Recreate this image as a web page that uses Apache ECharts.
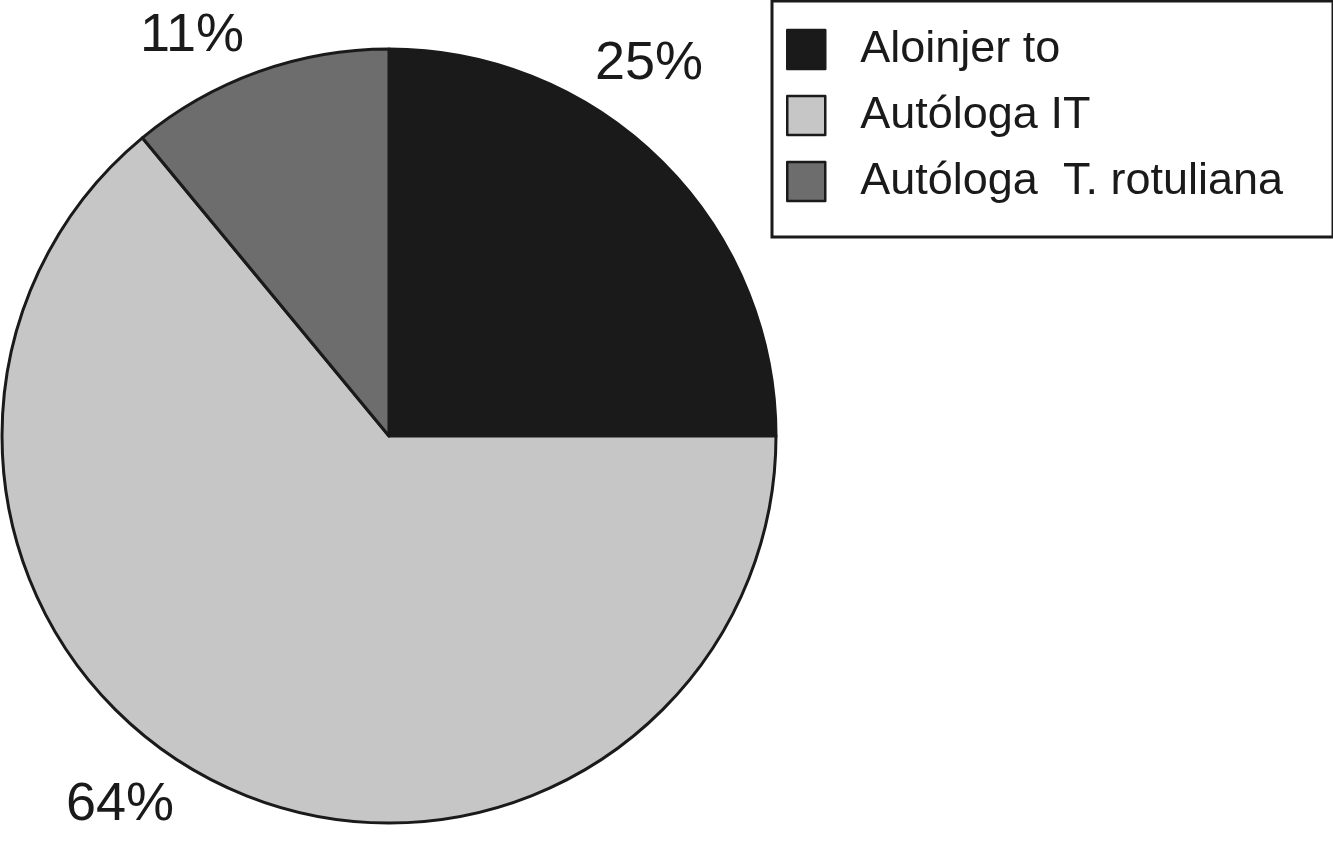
<!DOCTYPE html>
<html>
<head>
<meta charset="utf-8">
<script src="https://cdn.jsdelivr.net/npm/echarts@6/dist/echarts.min.js"></script>
<style>
html,body{margin:0;padding:0;background:#fff;}
#chart{width:1333px;height:842px;}
</style>
</head>
<body>
<div id="chart"></div>
<script>
// Data
const categories = ['Aloinjer to', 'Autóloga IT', 'Autóloga  T. rotuliana'];
const values = [25, 64, 11];
const colors = ['#1a1a1a', '#c6c6c6', '#6d6d6d'];

// Label anchor points (layout only)
const labelPositions = [[649, 64], [120, 805], [192, 36]];

const chart = echarts.init(document.getElementById('chart'));
const FONT = "'Liberation Sans', Arial, sans-serif";

chart.setOption({
  backgroundColor: '#ffffff',
  animation: false,
  legend: {
    orient: 'vertical',
    left: 772,
    top: 1,
    padding: [26, 50, 33, 14],
    itemWidth: 38,
    itemHeight: 39,
    itemGap: 21,
    icon: 'rect',
    backgroundColor: '#ffffff',
    borderColor: '#1a1a1a',
    borderWidth: 3,
    borderRadius: 0,
    itemStyle: { borderColor: '#1a1a1a', borderWidth: 2.5 },
    textStyle: {
      fontFamily: FONT,
      fontSize: 45,
      color: '#1a1a1a',
      padding: [0, 0, 0, 30]
    },
    data: categories
  },
  series: [{
    type: 'pie',
    center: [389, 436],
    radius: 387,
    startAngle: 90,
    clockwise: true,
    avoidLabelOverlap: false,
    itemStyle: { borderColor: '#1a1a1a', borderWidth: 3 },
    label: {
      show: true,
      position: 'outside',
      formatter: '{c}%',
      fontFamily: FONT,
      fontSize: 54,
      color: '#1a1a1a',
      align: 'center',
      verticalAlign: 'middle'
    },
    labelLine: { show: false },
    labelLayout: function (params) {
      const p = labelPositions[params.dataIndex];
      return { x: p[0], y: p[1], align: 'center', verticalAlign: 'middle' };
    },
    emphasis: { disabled: true },
    data: categories.map((name, i) => ({
      name: name,
      value: values[i],
      itemStyle: { color: colors[i] }
    }))
  }]
});
</script>
</body>
</html>
